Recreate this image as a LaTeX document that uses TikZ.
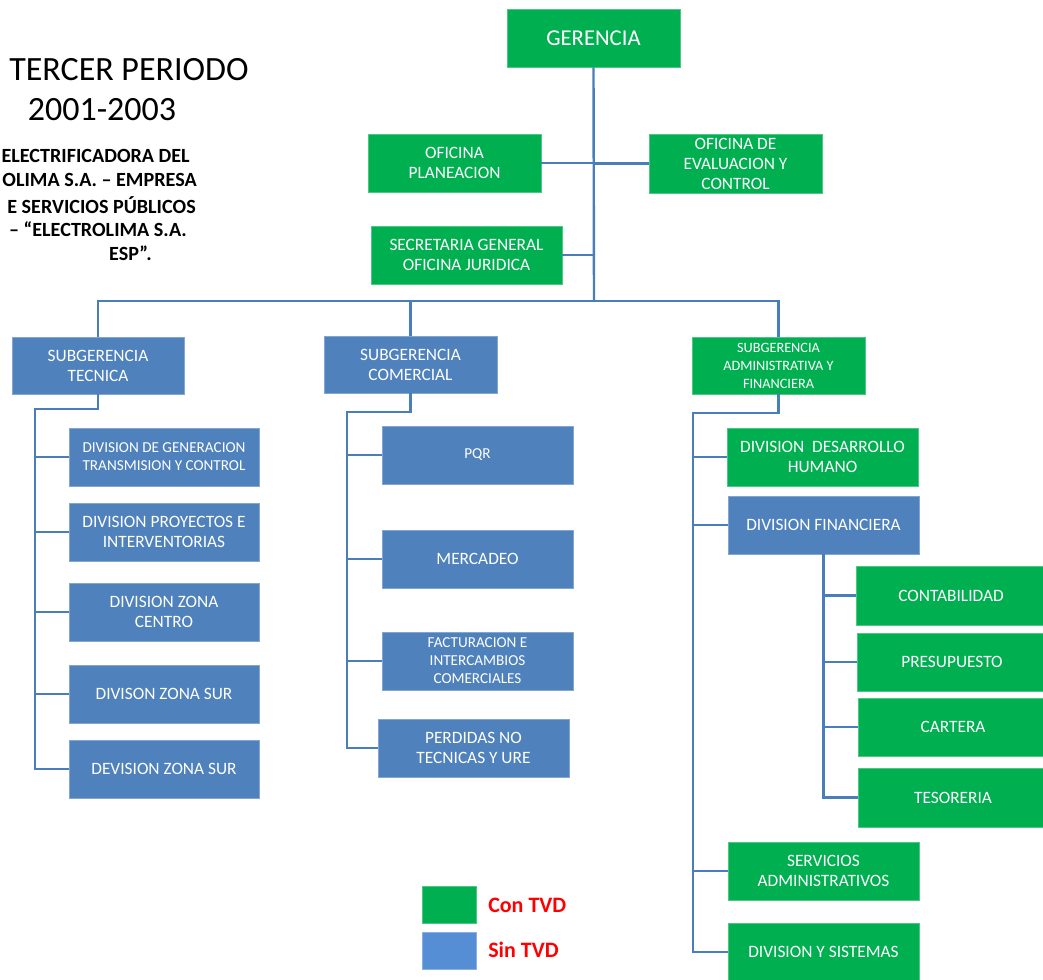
\documentclass[tikz,border=0pt]{standalone}
\usepackage{fontspec}
\setmainfont{Carlito}
\definecolor{gr}{HTML}{00B050}
\definecolor{bl}{HTML}{4F81BD}
\definecolor{lgb}{HTML}{558ED5}
\definecolor{ln}{HTML}{4A7EBB}
\definecolor{rd}{HTML}{FF0000}
\tikzset{
  gbox/.style={fill=gr, draw=gr!70!white, line width=0.5pt, text=white, align=center, inner sep=0pt},
  bbox/.style={fill=bl, draw=bl!70!white, line width=0.5pt, text=white, align=center, inner sep=0pt},
  conn/.style={draw=ln, line width=1.8pt},
  tbig/.style={font=\fontsize{17}{20}\selectfont},
  tmid/.style={font=\fontsize{13}{15}\selectfont},
  tsml/.style={font=\fontsize{11.4}{13.5}\selectfont},
  txs/.style={font=\fontsize{10.7}{13.5}\selectfont},
  legtext/.style={font=\fontsize{16.5}{19}\selectfont\bfseries, text=rd, anchor=west, inner sep=0pt},
  titletext/.style={font=\fontsize{25.5}{30}\selectfont, inner sep=0pt},
  boldtext/.style={font=\fontsize{15.1}{18}\selectfont\bfseries, inner sep=0pt, anchor=east},
}
\newcommand\bx[8]{\node[#6,#7, minimum width={(#4-#2)*0.75pt}, minimum height={(#5-#3)*0.75pt}] (#1) at ({(#2+#4)/2},{(#3+#5)/2}) {#8};}
\begin{document}
\begin{tikzpicture}[x=0.75pt,y=-0.75pt]
\useasboundingbox (0,0) rectangle (1043,980);
\fill[white] (0,0) rectangle (1043,980);

% titles
\node[titletext] (t1) at (129,70) {TERCER PERIODO};
\node[titletext] (t2) at (102,110) {2001-2003};
\node[boldtext] (b1) at (190,156) {ELECTRIFICADORA DEL};
\node[boldtext] (b2) at (197,180) {OLIMA S.A. – EMPRESA};
\node[boldtext] (b3) at (196,205) {E SERVICIOS PÚBLICOS};
\node[boldtext] (b4) at (187,229) {– “ELECTROLIMA S.A.};
\node[boldtext] (b5) at (152,253) {ESP”.};

% top level
\bx{ger}{507}{9}{680}{67}{gbox}{tbig}{GERENCIA}
\bx{plan}{368}{134}{541}{192}{gbox}{tmid}{OFICINA\\PLANEACION}
\bx{eva}{649}{134}{822}{193}{gbox}{tmid}{OFICINA DE\\EVALUACION Y\\CONTROL}
\bx{sec}{371}{226}{562}{284}{gbox}{tmid}{SECRETARIA GENERAL\\OFICINA JURIDICA}

% subgerencias
\bx{tec}{12}{337}{184}{394}{bbox}{tmid}{SUBGERENCIA\\TECNICA}
\bx{com}{324}{336}{497}{393}{bbox}{tmid}{SUBGERENCIA\\COMERCIAL}
\bx{adm}{692}{337}{865}{394}{gbox}{txs}{SUBGERENCIA\\ADMINISTRATIVA Y\\FINANCIERA}

% tecnica
\bx{d1}{69}{428}{259}{486}{bbox}{tsml}{DIVISION DE GENERACION\\TRANSMISION Y CONTROL}
\bx{d2}{69}{503}{259}{561}{bbox}{tmid}{DIVISION PROYECTOS E\\INTERVENTORIAS}
\bx{d3}{69}{583}{259}{641}{bbox}{tmid}{DIVISION ZONA\\CENTRO}
\bx{d4}{69}{665}{259}{723}{bbox}{tmid}{DIVISON ZONA SUR}
\bx{d5}{69}{740}{259}{798}{bbox}{tmid}{DEVISION ZONA SUR}

% comercial
\bx{pqr}{382}{426}{573}{484}{bbox}{tsml}{PQR}
\bx{mer}{382}{530}{573}{588}{bbox}{tmid}{MERCADEO}
\bx{fac}{382}{632}{573}{690}{bbox}{tsml}{FACTURACION E\\INTERCAMBIOS\\COMERCIALES}
\bx{per}{378}{719}{569}{777}{bbox}{tmid}{PERDIDAS NO\\TECNICAS Y URE}

% administrativa
\bx{dh}{727}{428}{918}{486}{gbox}{tmid}{DIVISION\ \ DESARROLLO\\HUMANO}
\bx{fin}{728}{496}{919}{554}{bbox}{tmid}{DIVISION FINANCIERA}
\bx{con}{856}{566}{1046}{625}{gbox}{tmid}{CONTABILIDAD}
\bx{pre}{857}{633}{1047}{691}{gbox}{tmid}{PRESUPUESTO}
\bx{car}{858}{698}{1048}{756}{gbox}{tmid}{CARTERA}
\bx{tes}{858}{768}{1048}{827}{gbox}{tmid}{TESORERIA}
\bx{srv}{728}{842}{919}{900}{gbox}{tmid}{SERVICIOS\\ADMINISTRATIVOS}
\bx{sis}{728}{923}{919}{981}{gbox}{tmid}{DIVISION Y SISTEMAS}

% legend
\bx{lg1}{422}{886}{476}{923}{gbox}{tmid}{}
\bx{lg2}{422}{932}{476}{969}{bbox,fill=lgb,draw=lgb!70!white}{tmid}{}
\node[legtext] (lt1) at (488,905) {Con TVD};
\node[legtext] (lt2) at (488,950) {Sin TVD};

% connectors
\coordinate (hub) at (594,301);
\coordinate (tl) at (35,409);
\coordinate (cl) at (347,412);
\coordinate (al) at (693,413);
\draw[conn] (ger.south) -- (hub);
\draw[conn] (plan.east) -- (plan.east -| hub);
\draw[conn] (eva.west) -- (eva.west -| hub);
\draw[conn] (sec.east) -- (sec.east -| hub);
\draw[conn] (tec.north) |- (hub) -| (adm.north);
\draw[conn] (com.north) -- (com.north |- hub);

\draw[conn] (tec.south) |- (tl) |- (d5.west);
\foreach \n in {d1,d2,d3,d4} \draw[conn] (tl |- \n.west) -- (\n.west);

\draw[conn] (com.south) |- (cl) |- (per.west);
\foreach \n in {pqr,mer,fac} \draw[conn] (cl |- \n.west) -- (\n.west);

\draw[conn] (adm.south) |- (al) |- (sis.west);
\foreach \n in {dh,fin,srv} \draw[conn] (al |- \n.west) -- (\n.west);

\draw[conn] (fin.south) |- (tes.west);
\foreach \n in {con,pre,car} \draw[conn] (fin.south |- \n.west) -- (\n.west);
\end{tikzpicture}
\end{document}
